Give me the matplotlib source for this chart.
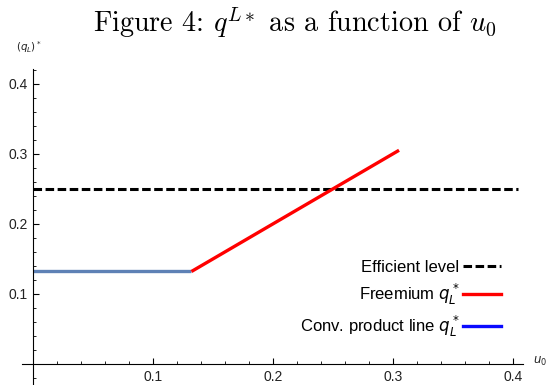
import matplotlib.pyplot as plt
from matplotlib.lines import Line2D
from matplotlib.ticker import MultipleLocator

plt.rcParams['mathtext.fontset'] = 'cm'
plt.rcParams['font.family'] = ['Liberation Sans', 'DejaVu Sans']

# ── Data ────────────────────────────────────────────────────────────────────
u_conv = [0.0, 0.132]
q_conv = [0.132, 0.132]

u_free = [0.132, 0.305]
q_free = [0.132, 0.305]

u_eff = [0.0, 0.404]
q_eff = [0.25, 0.25]

labels = ['Efficient level', 'Freemium $q_L^*$', 'Conv. product line $q_L^*$']

# ── Figure ──────────────────────────────────────────────────────────────────
fig = plt.figure(figsize=(5.5, 3.85), dpi=100)
ax = fig.add_axes([22 / 550, 0.0, (523 - 22) / 550, 1 - 69 / 385])

ax.plot(u_eff, q_eff, color='black', lw=2.2, dashes=(2.8, 1.15),
        solid_capstyle='butt', dash_capstyle='butt')
ax.plot(u_conv, q_conv, color='#5e81b5', lw=2.4, solid_capstyle='butt')
ax.plot(u_free, q_free, color='#ff0000', lw=2.4, solid_capstyle='butt')

ax.set_xlim(-0.0092, 0.4083)
ax.set_ylim(-0.03, 0.421)

for side in ['top', 'right']:
    ax.spines[side].set_visible(False)
ax.spines['left'].set_position(('data', 0))
ax.spines['bottom'].set_position(('data', 0))
for side in ['left', 'bottom']:
    ax.spines[side].set_linewidth(0.8)

ax.xaxis.set_minor_locator(MultipleLocator(0.02))
ax.yaxis.set_minor_locator(MultipleLocator(0.02))
ax.set_xticks([0.1, 0.2, 0.3, 0.4])
ax.set_yticks([0.1, 0.2, 0.3, 0.4])
ax.set_xticklabels(['0.1', '0.2', '0.3', '0.4'])
ax.set_yticklabels(['0.1', '0.2', '0.3', '0.4'])
ax.tick_params(which='major', direction='in', length=4, width=0.8,
               labelsize=10, labelcolor='#222222', pad=4)
ax.tick_params(which='minor', direction='in', length=2.2, width=0.6)

ax.text(0.4165, 0.004, '$u_0$', fontsize=8.5, math_fontfamily='dejavusans',
        ha='left', va='center', color='#222222', clip_on=False)
fig.text(16 / 550, 1 - 47 / 385, r'$(q_L)^*$', fontsize=7.5,
         math_fontfamily='dejavusans', ha='left', va='center', color='#222222')

fig.text(295 / 550, 1 - 32 / 385, r'Figure 4: $q^{L*}$ as a function of $u_0$',
         family='cmr10', fontsize=20.3, ha='center', va='baseline')

handles = [
    Line2D([], [], color='black', lw=2.2, dashes=(2.8, 1.15)),
    Line2D([], [], color='#ff0000', lw=2.4),
    Line2D([], [], color='#0a0aff', lw=2.4),
]
leg = fig.legend(handles, labels, loc='upper right',
                 bbox_to_anchor=(501 / 550, 1 - 260 / 385),
                 frameon=False, markerfirst=False, fontsize=12,
                 handlelength=2.3, handletextpad=0.2, labelspacing=0.42,
                 borderpad=0, borderaxespad=0)
for t in leg.get_texts():
    t.set_math_fontfamily('dejavusans')

fig.savefig('out.png', dpi=100)
